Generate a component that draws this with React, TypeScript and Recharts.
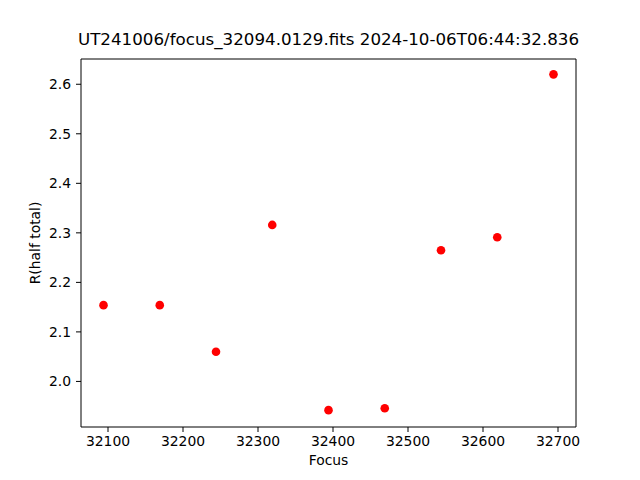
import React from "react";
import { ScatterChart, Scatter, XAxis, YAxis, ZAxis, ReferenceLine } from "recharts";

const focusValues = [32094, 32169, 32244, 32319, 32394, 32469, 32544, 32619, 32694];
const rHalfTotal = [2.154, 2.154, 2.06, 2.316, 1.942, 1.946, 2.265, 2.291, 2.62];
const xTicks = [32100, 32200, 32300, 32400, 32500, 32600, 32700];
const yTicks = [2.0, 2.1, 2.2, 2.3, 2.4, 2.5, 2.6];
const title = "UT241006/focus_32094.0129.fits 2024-10-06T06:44:32.836";
const xLabel = "Focus";
const yLabel = "R(half total)";

const X_DOMAIN = [32064, 32724];
const Y_DOMAIN = [1.908, 2.651];

const data = focusValues.map((f, i) => ({ x: f, y: rHalfTotal[i] }));

const FONT = "'DejaVu Sans', sans-serif";

const Dot = (props: any) => {
  const { cx, cy } = props;
  return <circle cx={cx} cy={cy} r={4.3} fill="#ff0000" />;
};

export default function App() {
  const tickStyle = { fill: "#000", fontSize: 13.9, fontFamily: FONT };
  return (
    <div style={{ position: "absolute", left: 0, top: 0, width: 640, height: 480, background: "#fff" }}>
      <ScatterChart width={640} height={480} margin={{ top: 59, right: 64, left: 0, bottom: 0 }}>
        <XAxis
          type="number"
          dataKey="x"
          domain={X_DOMAIN}
          ticks={xTicks}
          height={53}
          tickSize={5}
          tickMargin={4}
          tick={tickStyle}
          stroke="#000"
          allowDataOverflow
        />
        <YAxis
          type="number"
          dataKey="y"
          domain={Y_DOMAIN}
          ticks={yTicks}
          width={81}
          tickSize={5}
          tickMargin={5}
          tick={tickStyle}
          tickFormatter={(v: number) => v.toFixed(1)}
          stroke="#000"
          allowDataOverflow
        />
        <ZAxis range={[60, 60]} />
        <ReferenceLine y={Y_DOMAIN[1]} stroke="#000" ifOverflow="extendDomain" />
        <ReferenceLine x={X_DOMAIN[1]} stroke="#000" ifOverflow="extendDomain" />
        <Scatter data={data} shape={<Dot />} isAnimationActive={false} />
      </ScatterChart>
      <div style={{ position: "absolute", left: 0, width: 657, top: 29, textAlign: "center", fontFamily: FONT, fontSize: 16.7, color: "#000", whiteSpace: "nowrap" }}>
        {title}
      </div>
      <div style={{ position: "absolute", left: 80.7, width: 495.6, top: 452, textAlign: "center", fontFamily: FONT, fontSize: 13.9, color: "#000" }}>
        {xLabel}
      </div>
      <div style={{ position: "absolute", left: 35, top: 243, width: 0, height: 0 }}>
        <div style={{ position: "absolute", transform: "translate(-50%, -50%) rotate(-90deg)", fontFamily: FONT, fontSize: 13.9, color: "#000", whiteSpace: "nowrap" }}>
          {yLabel}
        </div>
      </div>
    </div>
  );
}
